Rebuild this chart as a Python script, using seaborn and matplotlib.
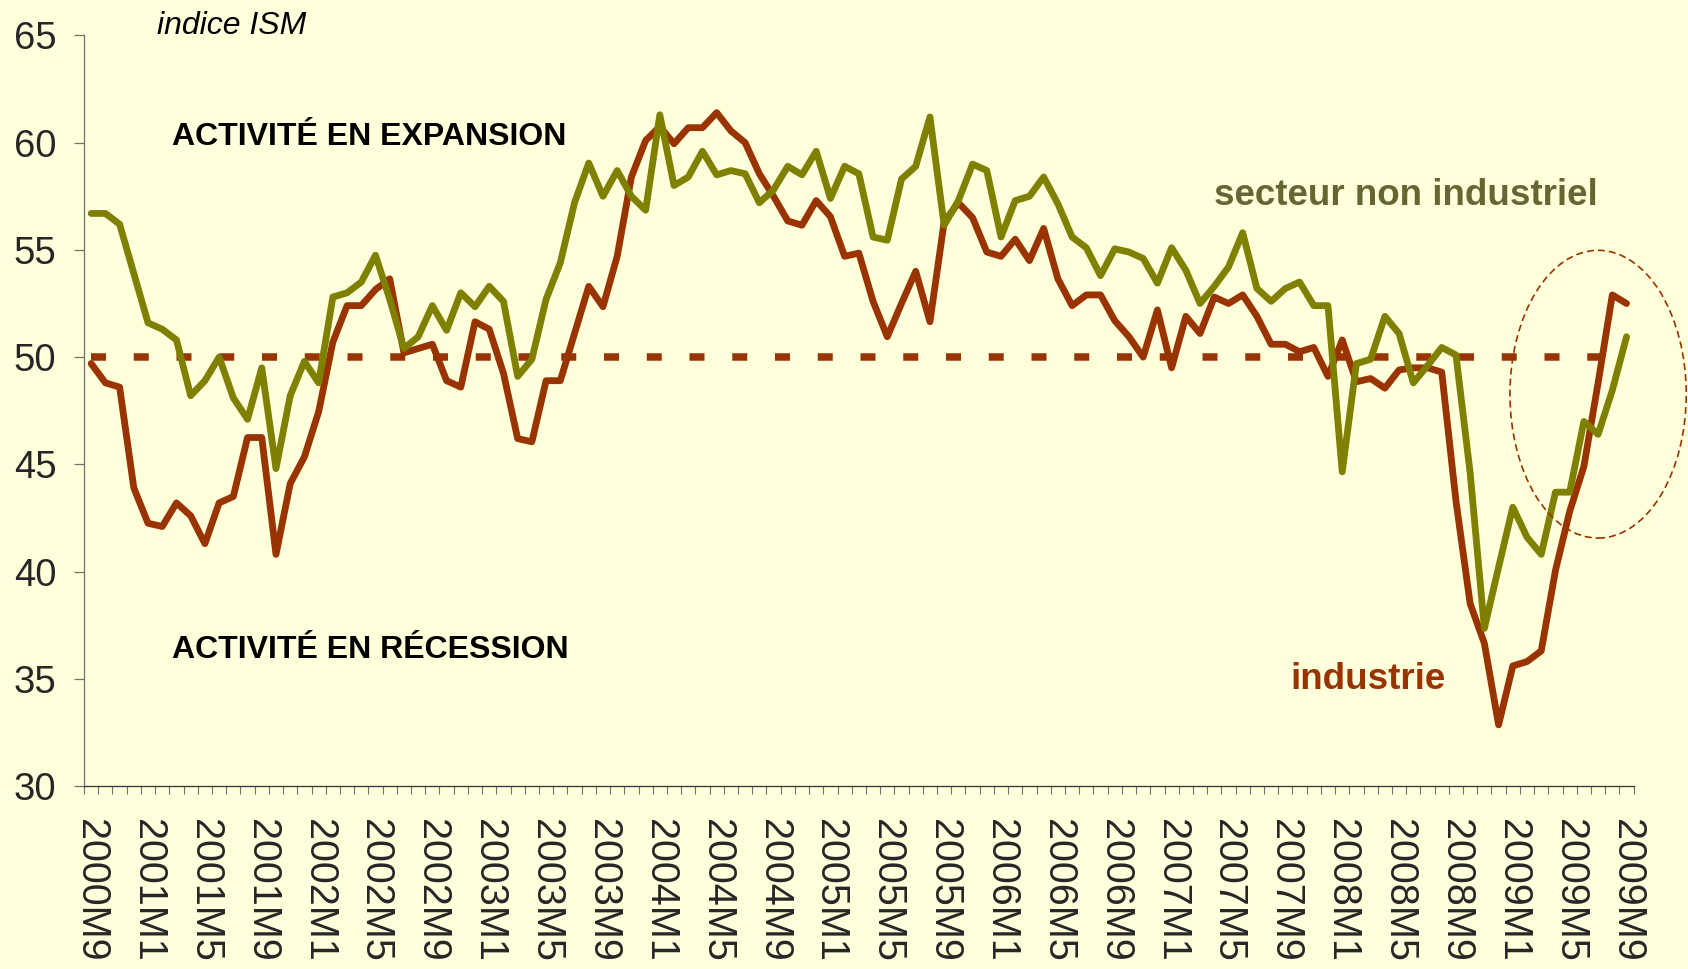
import numpy as np
import pandas as pd
import seaborn as sns
import matplotlib.pyplot as plt
from matplotlib.patches import Ellipse

# indices ISM mensuels, de 2000M9 a 2009M9
start_year, start_month = 2000, 9

industrie = [
    49.7, 48.8, 48.6, 43.9, 42.25, 42.1, 43.2, 42.6, 41.3, 43.2,
    43.5, 46.25, 46.25, 40.8, 44.1, 45.35, 47.45, 50.7, 52.4, 52.4,
    53.15, 53.65, 50.2, 50.4, 50.6, 48.9, 48.6, 51.65, 51.3, 49.25,
    46.2, 46.05, 48.9, 48.9, 51.1, 53.3, 52.35, 54.7, 58.4, 60.1,
    60.75, 59.95, 60.7, 60.7, 61.4, 60.55, 60.0, 58.55, 57.5, 56.35,
    56.15, 57.3, 56.55, 54.7, 54.85, 52.6, 50.95, 52.5, 54.0, 51.65,
    56.3, 57.2, 56.5, 54.9, 54.7, 55.5, 54.5, 56.0, 53.65, 52.4,
    52.9, 52.9, 51.7, 50.95, 50.0, 52.2, 49.5, 51.9, 51.1, 52.8,
    52.5, 52.9, 51.9, 50.6, 50.6, 50.25, 50.45, 49.1, 50.8, 48.85,
    49.0, 48.55, 49.4, 49.5, 49.5, 49.3, 43.3, 38.5, 36.65, 32.85,
    35.6, 35.8, 36.3, 40.05, 42.8, 44.9, 48.8, 52.9, 52.5,
]
non_industriel = [
    56.7, 56.7, 56.2, 53.9, 51.6, 51.3, 50.8, 48.2, 48.9, 50.0,
    48.1, 47.1, 49.5, 44.8, 48.2, 49.8, 48.8, 52.8, 53.0, 53.5,
    54.75, 52.7, 50.4, 50.95, 52.4, 51.25, 53.0, 52.35, 53.3, 52.6,
    49.1, 49.9, 52.7, 54.4, 57.2, 59.05, 57.5, 58.7, 57.5, 56.85,
    61.3, 58.0, 58.4, 59.6, 58.5, 58.7, 58.55, 57.2, 57.8, 58.9,
    58.5, 59.6, 57.4, 58.9, 58.55, 55.6, 55.45, 58.3, 58.9, 61.2,
    56.15, 57.3, 59.0, 58.7, 55.6, 57.3, 57.5, 58.4, 57.15, 55.6,
    55.1, 53.8, 55.05, 54.9, 54.6, 53.45, 55.1, 54.05, 52.5, 53.3,
    54.2, 55.8, 53.2, 52.6, 53.2, 53.5, 52.4, 52.4, 44.65, 49.7,
    49.9, 51.9, 51.1, 48.8, 49.6, 50.45, 50.1, 44.6, 37.35, 40.2,
    43.0, 41.6, 40.8, 43.7, 43.7, 47.0, 46.4, 48.45, 50.95,
]

n = len(industrie)
mois = [f"{start_year + (start_month - 1 + k) // 12}M{(start_month - 1 + k) % 12 + 1}"
        for k in range(n)]
pos = np.arange(n)

bg = "#FFFFDC"
rouge = "#993300"
olive = "#808000"

df = pd.DataFrame({
    "pos": np.concatenate([pos, pos]),
    "indice": industrie + non_industriel,
    "serie": ["industrie"] * n + ["secteur non industriel"] * n,
})

sns.set_style("ticks")
plt.rcParams["font.family"] = ["Liberation Sans", "DejaVu Sans"]

fig = plt.figure(figsize=(16.88, 9.69), dpi=100, facecolor=bg)
ax = fig.add_axes([0.0498, 0.1889, 0.918, 0.7745], facecolor=bg)

# seuil des 50
ax.plot([pos[0], pos[-1]], [50, 50], color=rouge, lw=5.4,
        dashes=(2.0, 3.7), solid_capstyle="butt", dash_capstyle="butt", zorder=1)

sns.lineplot(data=df, x="pos", y="indice", hue="serie",
             palette={"industrie": rouge, "secteur non industriel": olive},
             hue_order=["industrie", "secteur non industriel"],
             linewidth=4.9, legend=False, ax=ax, zorder=2)

ax.set_xlim(-0.5, n - 0.5)
ax.set_ylim(30, 65)
ax.set_yticks(range(30, 66, 5))
ax.set_xticks(pos[::4])
ax.set_xticklabels(mois[::4], rotation=-90)
ax.set_xticks(np.arange(-0.5, n, 1), minor=True)
ax.set_xlabel("")
ax.set_ylabel("")

ax.tick_params(axis="x", which="major", length=0, pad=24, labelsize=28.5)
ax.tick_params(axis="x", which="minor", length=5.8, width=0.8, color="#707070")
ax.tick_params(axis="y", length=7, width=0.9, pad=13, color="#707070", labelsize=27.5)
for t in ax.get_xticklabels():
    t.set_verticalalignment("top")

sns.despine(ax=ax)
ax.spines["left"].set_color("#707070")
ax.spines["bottom"].set_color("#303030")
ax.spines["left"].set_linewidth(0.9)
ax.spines["bottom"].set_linewidth(0.9)

ax.text(5.68, 59.87, "ACTIVITÉ EN EXPANSION", fontsize=23, fontweight="bold",
        color="black", va="baseline")
ax.text(5.68, 35.95, "ACTIVITÉ EN RÉCESSION", fontsize=23, fontweight="bold",
        color="black", va="baseline")
ax.text(78.96, 57.08, "secteur non industriel", fontsize=26.5, fontweight="bold",
        color="#666633", va="baseline")
ax.text(84.35, 34.5, "industrie", fontsize=26.5, fontweight="bold",
        color=rouge, va="baseline")
fig.text(0.093, 0.9646, "indice ISM", fontsize=23, style="italic",
         color="black", va="baseline")

ax.add_patch(Ellipse((106.0, 48.27), width=12.4, height=13.42, fill=False,
                     ec=rouge, lw=1.2, ls=(0, (4.2, 2.4)), clip_on=False, zorder=3))

fig.savefig("out.png", dpi=100, facecolor=bg)
